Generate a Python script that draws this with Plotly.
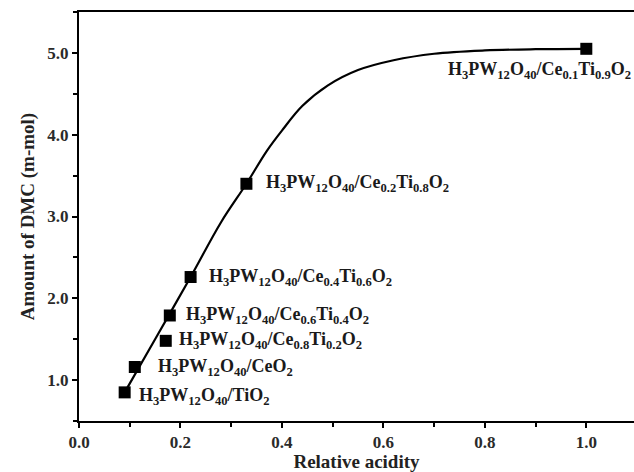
import plotly.graph_objects as go

# Measured data points
acidity = [0.09, 0.11, 0.171, 0.179, 0.22, 0.33, 1.0]
dmc = [0.85, 1.16, 1.48, 1.79, 2.26, 3.40, 5.05]
labels = [
    "H<sub>3</sub>PW<sub>12</sub>O<sub>40</sub>/TiO<sub>2</sub>",
    "H<sub>3</sub>PW<sub>12</sub>O<sub>40</sub>/CeO<sub>2</sub>",
    "H<sub>3</sub>PW<sub>12</sub>O<sub>40</sub>/Ce<sub>0.8</sub>Ti<sub>0.2</sub>O<sub>2</sub>",
    "H<sub>3</sub>PW<sub>12</sub>O<sub>40</sub>/Ce<sub>0.6</sub>Ti<sub>0.4</sub>O<sub>2</sub>",
    "H<sub>3</sub>PW<sub>12</sub>O<sub>40</sub>/Ce<sub>0.4</sub>Ti<sub>0.6</sub>O<sub>2</sub>",
    "H<sub>3</sub>PW<sub>12</sub>O<sub>40</sub>/Ce<sub>0.2</sub>Ti<sub>0.8</sub>O<sub>2</sub>",
    "H<sub>3</sub>PW<sub>12</sub>O<sub>40</sub>/Ce<sub>0.1</sub>Ti<sub>0.9</sub>O<sub>2</sub>",
]

# Fitted curve
curve_x = [0.09, 0.15, 0.22, 0.28, 0.33, 0.37, 0.40, 0.44, 0.49, 0.55, 0.62, 0.70, 0.80, 0.90, 1.0]
curve_y = [0.85, 1.50, 2.26, 2.93, 3.40, 3.80, 4.05, 4.35, 4.60, 4.79, 4.91, 4.99, 5.03, 5.045, 5.05]

# Tick values and labels
x_ticks = [0.0, 0.2, 0.4, 0.6, 0.8, 1.0]
x_tick_labels = ["0.0", "0.2", "0.4", "0.6", "0.8", "1.0"]
y_ticks = [1.0, 2.0, 3.0, 4.0, 5.0]
y_tick_labels = ["1.0", "2.0", "3.0", "4.0", "5.0"]

# label offsets (px) relative to marker
label_dx = [12, 21, 11, 14, 16, 18, 47]
label_dy = [-4, 0, 0, 0, 0, 0, -22]
label_anchor = ["left", "left", "left", "left", "left", "left", "right"]

FONT = "Liberation Serif"
TICKFONT = dict(family=FONT, size=17, color="#2a2a2a")
TITLEFONT = dict(family=FONT, size=19, color="#222", weight="bold")

fig = go.Figure()
fig.add_trace(go.Scatter(x=curve_x, y=curve_y, mode="lines",
                         line=dict(color="black", width=2.2, shape="spline", smoothing=1.0),
                         hoverinfo="skip", showlegend=False))
fig.add_trace(go.Scatter(x=acidity, y=dmc, mode="markers",
                         marker=dict(symbol="square", size=12, color="black"),
                         showlegend=False))

for x, y, t, dx, dy, anc in zip(acidity, dmc, labels, label_dx, label_dy, label_anchor):
    fig.add_annotation(x=x, y=y, text="<b>" + t + "</b>", showarrow=False,
                       xanchor=anc, yanchor="middle", xshift=dx, yshift=dy,
                       font=dict(family=FONT, size=18, color="#1a1a1a", weight="bold"))

axis_common = dict(showline=True, linecolor="black", linewidth=2, ticks="outside",
                   tickwidth=2, ticklen=5, tickcolor="black", showgrid=False, zeroline=False,
                   tickfont=TICKFONT,
                   minor=dict(ticks="outside", ticklen=4, tickwidth=2, tickcolor="black"))

fig.update_xaxes(range=[0, 1.094], tickmode="array", tickvals=x_ticks,
                 ticktext=["<b>" + s + "</b>" for s in x_tick_labels],
                 minor_dtick=0.1, minor_tick0=0, mirror=True,
                 title=dict(text="<b>Relative acidity</b>", standoff=2, font=TITLEFONT),
                 **axis_common)
fig.update_yaxes(range=[0.5, 5.5], tickmode="array", tickvals=y_ticks,
                 ticktext=["<b>" + s + "</b>" for s in y_tick_labels],
                 minor_dtick=0.5, minor_tick0=0.5,
                 title=dict(text="<b>Amount of DMC (m-mol)</b>", standoff=8, font=TITLEFONT),
                 **axis_common)

fig.update_layout(width=634, height=472, margin=dict(l=79, r=0, t=12, b=51),
                  plot_bgcolor="white", paper_bgcolor="white",
                  font=dict(family=FONT))

fig.write_html("out.html")
